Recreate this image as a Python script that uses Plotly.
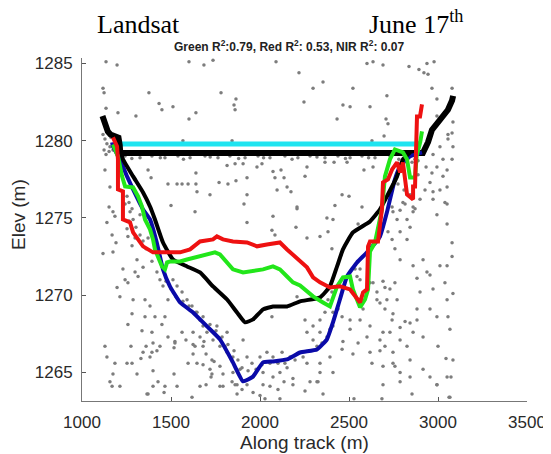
import plotly.graph_objects as go

# ---- photon returns (gray dots) ----
photon_x = [
    1135, 1197, 1601, 1685, 1736, 2090, 2219, 1118, 1124, 1376, 1781, 1865, 1433, 1854, 1449, 1511,
    1860, 1135, 1202, 1303, 1640, 1601, 1567, 1843, 2601, 2635, 2691, 2837, 2893, 2921, 2944, 2938,
    2978, 2354, 2298, 2522, 2966, 3079, 2247, 2466, 2506, 2618, 2713, 2994, 2433, 2708, 2719, 2994,
    2629, 2697,
    1118, 1129, 1140, 1124, 1152, 1163, 1135, 1157, 1174, 1146,
    1242, 1326, 1393, 1466, 1539, 1607, 1691, 1764, 1831, 1916, 1989, 2056, 2140, 2213, 2281, 2365,
    2438, 2506, 2573, 2646, 2730, 2815, 2871, 1280, 1440, 1570, 1720, 1880, 2020, 2180, 2320, 2480,
    2610, 2780,
    1129, 1371, 1388, 1640, 1815, 1860, 1905, 1983, 2011, 2073, 2118, 2135, 2084, 1927, 1865, 1820,
    1770, 1640, 1596, 1562, 1534, 1483, 1646, 1719, 1927, 2096, 2152, 2174, 1500, 1910, 2208,
    2264, 2365, 2416, 2489, 2584, 2635, 2253, 2461, 2500, 2421, 2573,
    2972, 3011, 3056, 3079, 3028, 2994, 2966, 3028, 3051, 3011, 2972, 3039, 2955, 2933, 3084, 3084,
    3056, 3079, 3051,
    1635, 1927, 2073, 2067, 2084, 2208, 2202, 1174, 1140, 1191, 1174, 1118, 1169, 1253, 1258, 1281,
    1309, 1343, 1315, 1258, 1242, 1298, 1230, 1197, 1213, 1287, 1354, 1382, 1455, 1483, 1511, 1534,
    1562, 1590, 1618, 1646, 1663, 1680, 1702, 1736, 1775, 1815, 1848, 1281, 1258, 1354, 1410, 1449,
    1466, 1337, 1393, 1438, 1483, 1522, 1562, 1584, 1624, 1635, 1663, 1596, 1646, 1680, 1719, 1730,
    1775, 1792, 1843, 1775, 1663, 1534, 1399, 1253, 1140, 1185, 1157, 1213, 1309, 1343, 1382, 1955,
    2000, 2039, 2073, 2124, 2169, 1961, 2017, 2073, 2112, 2152, 2017, 2185, 1927, 1871, 1848, 1888,
    1905, 2067, 2208, 1927, 1758, 1815, 1803,
    1242, 1270, 1287, 1303, 1326, 1343, 1360, 1326, 1264, 1298, 1371, 1393, 1421, 1438,
    1157, 1152, 1253, 1264, 1281, 1185,
    1472, 1500, 1528, 1567, 1601, 1640, 1680, 1719, 1753, 1787, 1820, 1854, 1876, 1899, 1933, 1978,
    2011, 2056, 2101, 2140, 2197,
    2376, 2410, 2264, 2337, 2382, 2404, 2551, 2579, 2972, 3051, 2994, 3051, 3079, 3079, 3051, 3039,
    3084, 3051, 3056, 3067, 3000, 3084, 3051, 2994, 2882, 2938, 2955, 2899, 2972, 3011, 2916, 2860,
    2787, 2758, 2742, 2719, 2787, 2826, 2843, 2770, 2826, 2860, 2787, 2747, 2742, 2803, 2860, 2882,
    2955, 2994, 2882, 2843, 2815, 2787, 2860, 2916, 2787, 2826, 2747, 2758, 2787, 2691, 2674, 2618,
    2522, 2618, 2601, 2674, 2702, 2691, 2730, 2742, 2747, 2702, 2674, 2657, 2713, 2770, 2730, 2702,
    2758, 2691, 2657, 2635, 2618, 2562, 2545, 2534, 2562, 2579, 2562, 2506, 2461, 2410, 2438, 2382,
    2404, 2365, 2337, 2298, 2337, 2410, 2393, 2376, 2298, 2320, 2348, 2466, 2461, 2506, 2253, 2264,
    2242, 2264, 2337, 2393, 2410, 2337, 2281, 2320, 2551, 2629, 2691, 2747, 2843, 2916, 2955, 2843,
    2787,
    1129, 1275, 1360, 1399, 1393, 1421, 1517, 1522, 1281, 1331, 1399, 1174, 1517, 1427, 1466, 1169,
    1365, 1461, 1618, 1624, 1624, 1680, 1697, 1730, 1742, 1697, 1725, 1685, 3045, 3073, 3062, 1371,
    1792, 1860, 1871, 1899, 1961, 2000, 2028, 2056, 2101, 2112, 2135, 2185, 2253, 2326, 2354, 2528,
    2685, 2854, 2994, 3067,
    2775, 2809, 2843, 2888, 2899, 2927, 2871, 2815, 2815, 2854, 2888,
]
photon_elev = [
    1285.1, 1284.9, 1285.1, 1284.9, 1285.2, 1285.1, 1284.4, 1283.4, 1283.1, 1283.1, 1283.1, 1282.7,
    1282.4, 1282.3, 1282.0, 1282.2, 1282.0, 1282.1, 1281.8, 1281.6, 1281.8, 1281.4, 1280.0, 1280.0,
    1285.0, 1285.1, 1284.9, 1284.8, 1284.6, 1284.4, 1284.3, 1285.0, 1285.1, 1283.8, 1283.4, 1283.4,
    1283.4, 1283.4, 1282.5, 1282.3, 1282.2, 1282.2, 1282.9, 1282.7, 1281.4, 1281.4, 1281.1, 1281.6,
    1280.0, 1280.3,
    1280.4, 1280.1, 1279.8, 1279.4, 1279.3, 1280.2, 1279.1, 1279.6, 1279.4, 1280.5,
    1279.0, 1278.9, 1279.0, 1278.9, 1279.0, 1278.9, 1279.0, 1278.9, 1279.0, 1278.9, 1279.0, 1278.9,
    1279.0, 1278.9, 1279.0, 1278.9, 1279.0, 1278.9, 1279.0, 1278.9, 1279.0, 1278.9, 1278.8, 1278.85,
    1278.9, 1278.8, 1278.95, 1278.85, 1278.9, 1278.8, 1278.95, 1278.85, 1278.9, 1278.8,
    1278.1, 1278.1, 1277.6, 1277.9, 1278.4, 1278.5, 1278.5, 1278.3, 1278.5, 1278.0, 1278.1, 1277.6,
    1277.6, 1277.6, 1277.4, 1277.2, 1277.3, 1277.2, 1277.2, 1277.2, 1277.2, 1277.2, 1276.7, 1276.5,
    1276.5, 1276.8, 1277.0, 1276.7, 1275.8, 1275.9, 1275.7,
    1278.3, 1278.6, 1278.6, 1278.6, 1278.1, 1278.3, 1277.7, 1276.5, 1276.4, 1275.8, 1275.7,
    1279.1, 1279.6, 1280.1, 1280.5, 1278.8, 1278.3, 1277.9, 1277.7, 1277.0, 1276.8, 1276.7, 1276.0,
    1277.3, 1278.3, 1279.6, 1281.2, 1280.4, 1278.8, 1278.1,
    1275.4, 1274.7, 1275.1, 1274.2, 1273.9, 1275.6, 1274.4, 1275.4, 1274.7, 1273.4, 1272.8, 1272.7,
    1273.9, 1274.3, 1273.8, 1273.2, 1272.3, 1271.8, 1271.2, 1270.8, 1271.0, 1271.5, 1271.7, 1270.5,
    1269.9, 1269.7, 1269.7, 1269.3, 1270.6, 1269.7, 1271.0, 1270.6, 1270.2, 1269.7, 1269.3, 1268.9,
    1268.4, 1268.0, 1267.6, 1267.1, 1266.7, 1266.3, 1266.0, 1268.8, 1268.1, 1268.6, 1268.6, 1268.1,
    1268.6, 1267.7, 1267.6, 1266.7, 1267.3, 1266.9, 1267.6, 1267.1, 1267.6, 1266.7, 1267.3, 1265.6,
    1265.6, 1265.5, 1265.2, 1265.8, 1265.4, 1264.9, 1264.4, 1264.1, 1264.1, 1264.1, 1264.1, 1265.6,
    1266.0, 1265.6, 1264.4, 1264.1, 1264.9, 1266.3, 1266.0, 1265.6, 1266.0, 1266.3, 1266.0, 1266.3,
    1266.0, 1264.7, 1265.0, 1264.7, 1265.0, 1265.3, 1264.2, 1264.6, 1264.2, 1264.2, 1265.0, 1265.2,
    1267.1, 1268.6, 1269.9, 1266.0, 1268.0, 1267.6, 1266.7,
    1275.9, 1275.4, 1274.9, 1274.4, 1273.9, 1273.5, 1273.0, 1275.2, 1274.8, 1273.7, 1273.7, 1272.2,
    1271.5, 1271.0,
    1277.0, 1275.7, 1276.4, 1276.0, 1275.6, 1275.1,
    1270.9, 1270.4, 1269.9, 1269.6, 1269.3, 1268.9, 1268.6, 1268.1, 1267.7, 1267.3, 1266.8, 1266.4,
    1265.8, 1265.3, 1265.1, 1265.2, 1265.5, 1265.6, 1265.6, 1265.6, 1265.8,
    1275.0, 1274.9, 1273.7, 1273.8, 1274.1, 1273.0, 1274.6, 1274.5, 1276.2, 1275.9, 1275.2, 1274.6,
    1273.4, 1272.5, 1271.9, 1270.8, 1270.1, 1269.7, 1268.6, 1267.8, 1266.7, 1265.8, 1264.7, 1264.2,
    1271.1, 1271.5, 1271.3, 1270.2, 1270.4, 1271.9, 1272.3, 1271.9, 1272.3, 1273.0, 1273.6, 1274.1,
    1274.1, 1273.6, 1274.4, 1274.9, 1274.9, 1275.4, 1275.5, 1275.4, 1275.7, 1276.0, 1275.7, 1269.1,
    1269.1, 1268.6, 1268.4, 1268.2, 1268.3, 1267.9, 1267.6, 1267.3, 1267.1, 1266.7, 1266.3, 1265.4,
    1265.0, 1265.4, 1266.4, 1266.3, 1266.2, 1268.0, 1267.3, 1267.1, 1266.7, 1267.6, 1267.6, 1268.4,
    1268.8, 1269.1, 1269.5, 1269.7, 1269.7, 1269.7, 1270.4, 1270.5, 1270.8, 1270.9, 1270.2, 1270.8,
    1270.8, 1271.0, 1271.2, 1271.7, 1271.7, 1269.1, 1268.4, 1268.4, 1268.6, 1268.9, 1269.1, 1269.7,
    1270.2, 1268.9, 1268.4, 1268.0, 1267.6, 1268.0, 1267.8, 1267.3, 1267.1, 1266.7, 1266.9, 1267.0,
    1266.5, 1267.8, 1268.4, 1267.6, 1266.0, 1265.6, 1265.6, 1266.0, 1265.0, 1265.0, 1264.4, 1264.4,
    1266.9, 1265.6, 1264.2, 1265.6, 1265.8, 1265.2, 1264.7, 1264.7, 1264.4,
    1266.7, 1266.7, 1266.7, 1266.9, 1266.3, 1266.4, 1266.6, 1267.0, 1265.6, 1265.9, 1265.1, 1264.9,
    1264.9, 1264.4, 1264.1, 1264.1, 1263.6, 1263.7, 1263.4, 1266.2, 1266.8, 1266.7, 1266.2, 1264.9,
    1265.7, 1264.2, 1264.7, 1267.0, 1265.9, 1264.7, 1263.4, 1263.6, 1264.1, 1264.2, 1263.6, 1263.9,
    1263.7, 1263.5, 1263.3, 1264.1, 1263.9, 1263.3, 1264.4, 1264.2, 1263.8, 1264.4, 1263.6, 1263.3,
    1263.3, 1263.6, 1264.2, 1263.4,
    1277.2, 1276.8, 1276.5, 1277.8, 1276.2, 1276.8, 1275.6, 1275.9, 1278.7, 1278.6, 1278.7,
]

# ---- water surface ----
surface_ref_x = [1215, 2905]
surface_ref_elev = [1279.78, 1279.78]

surface_x = [1115, 1120, 1130, 1145, 1160, 1190, 1205, 1212, 1215, 2915, 2944, 2966, 3000, 3028,
             3056, 3079, 3085]
surface_elev = [1281.6, 1281.4, 1281.0, 1280.6, 1280.4, 1280.3, 1280.2, 1279.7, 1279.2, 1279.2,
                1279.9, 1280.7, 1281.2, 1281.7, 1282.0, 1282.6, 1282.9]

# ---- ICESat-2 bathymetry (blue) ----
blue_x = [1169, 1174, 1213, 1253, 1287, 1343, 1382, 1420, 1455, 1494, 1551, 1624, 1702, 1775, 1848,
          1905, 1961, 2017, 2073, 2152, 2225, 2320, 2376, 2410, 2449, 2489, 2545, 2601, 2674, 2713,
          2758, 2787, 2843, 2910]
blue_elev = [1279.89, 1279.63, 1278.79, 1277.69, 1276.84, 1275.55, 1274.90, 1273.41, 1271.67,
             1270.57, 1269.53, 1268.88, 1267.98, 1267.14, 1265.65, 1264.42, 1264.74, 1265.65,
             1265.71, 1265.84, 1266.29, 1266.49, 1267.14, 1268.24, 1269.72, 1271.21, 1272.12,
             1272.77, 1273.80, 1275.36, 1277.49, 1278.33, 1278.98, 1279.24]

# ---- NIR estimate (black) ----
nir_x = [1202, 1230, 1287, 1343, 1382, 1410, 1455, 1511, 1590, 1663, 1736, 1815, 1871, 1916, 1961,
         2017, 2073, 2152, 2225, 2337, 2393, 2433, 2466, 2522, 2618, 2674, 2713, 2770, 2803, 2843]
nir_elev = [1280.08, 1278.79, 1277.69, 1276.65, 1275.74, 1274.90, 1273.41, 1272.31, 1271.86,
            1271.47, 1270.57, 1269.72, 1268.88, 1268.24, 1268.43, 1269.08, 1269.27, 1269.27,
            1269.60, 1269.85, 1270.57, 1271.86, 1272.96, 1274.06, 1274.77, 1275.55, 1276.39,
            1277.69, 1278.79, 1279.24]

# ---- Green band estimate ----
green_x = [1174, 1202, 1225, 1242, 1287, 1315, 1337, 1354, 1382, 1399, 1410, 1427, 1449, 1466,
           1478, 1494, 1551, 1590, 1663, 1702, 1747, 1775, 1815, 1848, 1905, 1961, 2017, 2073,
           2112, 2152, 2185, 2225, 2298, 2354, 2393, 2433, 2466, 2506, 2522, 2562, 2590, 2607,
           2618, 2646, 2674, 2685, 2702, 2730, 2758, 2803, 2826, 2843, 2871, 2880, 2900, 2910]
green_elev = [1279.76, 1278.98, 1277.69, 1277.04, 1276.97, 1276.39, 1275.74, 1274.90, 1274.26,
              1273.61, 1272.96, 1272.44, 1271.86, 1271.67, 1272.12, 1272.18, 1272.18, 1272.31,
              1272.51, 1272.64, 1272.77, 1272.64, 1272.12, 1271.67, 1271.47, 1271.54, 1271.67,
              1271.86, 1271.67, 1271.21, 1270.83, 1270.63, 1269.92, 1269.53, 1269.27, 1270.57,
              1271.15, 1271.21, 1270.37, 1269.21, 1269.72, 1270.37, 1272.83, 1273.41, 1275.03,
              1275.55, 1277.69, 1278.79, 1279.43, 1279.24, 1278.79, 1277.62, 1277.62, 1279.0,
              1279.9, 1280.6]

# ---- Red band estimate ----
red_x = [1174, 1197, 1202, 1202, 1230, 1230, 1270, 1287, 1315, 1343, 1399, 1478, 1511, 1551, 1607,
         1663, 1736, 1758, 1792, 1848, 1927, 1983, 2039, 2112, 2152, 2185, 2225, 2264, 2298, 2337,
         2393, 2449, 2506, 2534, 2562, 2579, 2601, 2607, 2618, 2663, 2674, 2685, 2691, 2719, 2742,
         2770, 2787, 2803, 2826, 2860, 2860, 2871, 2882, 2899, 2910]
red_elev = [1280.21, 1279.63, 1278.79, 1276.84, 1276.72, 1274.90, 1274.71, 1274.06, 1273.61,
            1273.16, 1272.77, 1272.77, 1272.83, 1272.77, 1272.96, 1273.48, 1273.61, 1273.80,
            1273.61, 1273.48, 1273.41, 1273.16, 1273.28, 1273.41, 1272.96, 1272.64, 1272.25,
            1271.80, 1271.15, 1270.83, 1270.50, 1270.57, 1270.37, 1269.92, 1269.53, 1270.18,
            1270.37, 1273.16, 1273.48, 1273.48, 1274.45, 1275.55, 1277.30, 1277.49, 1278.14,
            1278.59, 1277.95, 1278.59, 1276.52, 1276.20, 1277.04, 1277.04, 1281.57, 1281.57,
            1282.35]

xticks = [1000, 1500, 2000, 2500, 3000, 3500]
yticks = [1265, 1270, 1275, 1280, 1285]

fig = go.Figure()
fig.add_trace(go.Scatter(x=photon_x, y=photon_elev, mode="markers",
                         marker=dict(size=3.5, color="#7d7d7d")))
fig.add_trace(go.Scatter(x=surface_ref_x, y=surface_ref_elev, mode="lines",
                         line=dict(color="#1fe4f0", width=5)))
fig.add_trace(go.Scatter(x=surface_x, y=surface_elev, mode="lines",
                         line=dict(color="black", width=6)))
fig.add_trace(go.Scatter(x=blue_x, y=blue_elev, mode="lines",
                         line=dict(color="#0a0aa8", width=4, shape="spline", smoothing=0.4)))
fig.add_trace(go.Scatter(x=nir_x, y=nir_elev, mode="lines",
                         line=dict(color="black", width=4, shape="spline", smoothing=0.4)))
fig.add_trace(go.Scatter(x=green_x, y=green_elev, mode="lines",
                         line=dict(color="#22e61a", width=4)))
fig.add_trace(go.Scatter(x=red_x, y=red_elev, mode="lines",
                         line=dict(color="#ee1111", width=4)))

label_font = dict(family="Liberation Sans, Arial", size=19, color="#2a2a2a")
axis_font = dict(family="Liberation Sans, Arial", size=17, color="#2a2a2a")
fig.update_xaxes(range=[1000, 3500], tickvals=xticks, ticks="inside", ticklen=4,
                 tickcolor="#555", showline=True, linecolor="#777", linewidth=1,
                 showgrid=False, zeroline=False, tickfont=axis_font, ticklabelstandoff=6,
                 automargin=False)
fig.update_yaxes(range=[1263.15, 1285.35], tickvals=yticks, ticks="inside", ticklen=4,
                 tickcolor="#555", showline=True, linecolor="#777", linewidth=1,
                 showgrid=False, zeroline=False, tickfont=axis_font, ticklabelstandoff=5,
                 automargin=False)

# the page body adds an 8 px offset, so the figure is 8 px smaller than the window
fig.update_layout(width=543, height=446, showlegend=False,
                  plot_bgcolor="white", paper_bgcolor="white",
                  margin=dict(l=74, r=24, t=50, b=53, autoexpand=False),
                  annotations=[
                      dict(text="Landsat", xref="paper", yref="paper", x=0.126, y=1.097,
                           xanchor="center", yanchor="middle", showarrow=False,
                           font=dict(family="Liberation Serif", size=26, color="black")),
                      dict(text="June 17<sup>th</sup>", xref="paper", yref="paper", x=0.64, y=1.103,
                           xanchor="left", yanchor="middle", showarrow=False,
                           font=dict(family="Liberation Serif", size=26, color="black")),
                      dict(text="<b>Green R<sup>2</sup>:0.79, Red R<sup>2</sup>: 0.53, NIR R<sup>2</sup>: 0.07</b>",
                           xref="paper", yref="paper", x=0.465, y=1.036,
                           xanchor="center", yanchor="middle", showarrow=False,
                           font=dict(family="Liberation Sans, Arial", size=12, color="#222")),
                      dict(text="Elev (m)", xref="paper", yref="paper", x=-0.144, y=0.545,
                           xanchor="center", yanchor="middle", textangle=-90, showarrow=False,
                           font=label_font),
                      dict(text="Along track (m)", xref="paper", yref="paper", x=0.5, y=-0.12,
                           xanchor="center", yanchor="middle", showarrow=False,
                           font=label_font),
                  ])

fig.write_html("out.html")
